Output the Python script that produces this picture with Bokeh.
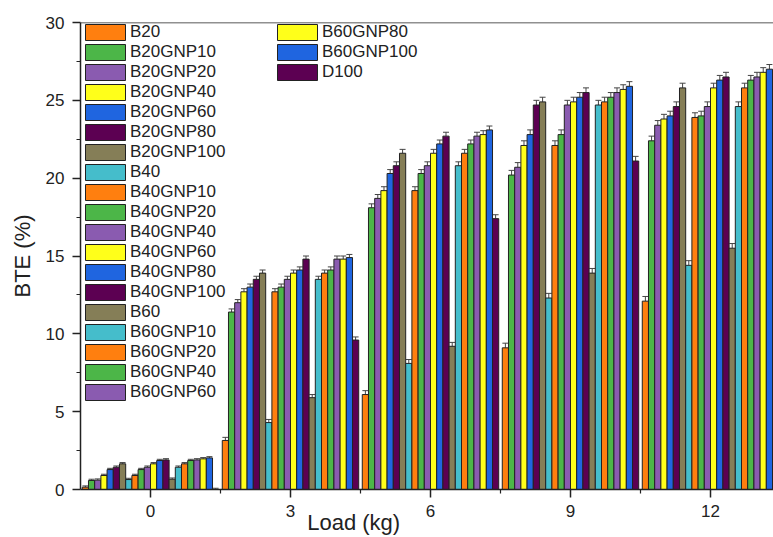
from bokeh.plotting import figure
from bokeh.models import (ColumnDataSource, Range1d, FixedTicker, Legend, LegendItem,
                          Whisker, TeeHead, Span)
from bokeh.embed import file_html
from bokeh.resources import INLINE

loads = [0, 3, 6, 9, 12]
names = ["B20", "B20GNP10", "B20GNP20", "B20GNP40", "B20GNP60", "B20GNP80", "B20GNP100",
         "B40", "B40GNP10", "B40GNP20", "B40GNP40", "B40GNP60", "B40GNP80", "B40GNP100",
         "B60", "B60GNP10", "B60GNP20", "B60GNP40", "B60GNP60", "B60GNP80", "B60GNP100",
         "D100"]

B20 = [0.15, 3.15, 6.1, 9.1, 12.1]
B20GNP10 = [0.58, 11.4, 18.1, 20.2, 22.4]
B20GNP20 = [0.6, 12.0, 18.7, 20.7, 23.4]
B20GNP40 = [0.9, 12.7, 19.2, 22.1, 23.8]
B20GNP60 = [1.28, 13.0, 20.3, 22.8, 24.0]
B20GNP80 = [1.43, 13.5, 20.8, 24.7, 24.6]
B20GNP100 = [1.65, 13.9, 21.6, 24.9, 25.8]
B40 = [0.64, 4.3, 8.1, 12.3, 14.4]
B40GNP10 = [0.9, 12.7, 19.2, 22.1, 23.9]
B40GNP20 = [1.28, 13.0, 20.3, 22.8, 24.0]
B40GNP40 = [1.43, 13.5, 20.8, 24.7, 24.6]
B40GNP60 = [1.65, 13.9, 21.6, 24.9, 25.8]
B40GNP80 = [1.86, 14.1, 22.2, 25.2, 26.3]
B40GNP100 = [1.9, 14.8, 22.7, 25.5, 26.5]
B60 = [0.66, 5.9, 9.2, 13.9, 15.5]
B60GNP10 = [1.43, 13.5, 20.8, 24.7, 24.6]
B60GNP20 = [1.65, 13.9, 21.6, 24.9, 25.8]
B60GNP40 = [1.86, 14.1, 22.2, 25.2, 26.3]
B60GNP60 = [1.9, 14.8, 22.7, 25.5, 26.5]
B60GNP80 = [1.97, 14.8, 22.8, 25.7, 26.8]
B60GNP100 = [2.03, 14.9, 23.1, 25.9, 27.0]
D100 = [0.0, 9.6, 17.4, 21.1, 22.9]

errors = [0.08, 0.2, 0.25, 0.3, 0.3]

series = [B20, B20GNP10, B20GNP20, B20GNP40, B20GNP60, B20GNP80, B20GNP100,
          B40, B40GNP10, B40GNP20, B40GNP40, B40GNP60, B40GNP80, B40GNP100,
          B60, B60GNP10, B60GNP20, B60GNP40, B60GNP60, B60GNP80, B60GNP100, D100]

palette = ["#FF7F0F", "#4CB648", "#8A5BB0", "#FFFF1A", "#1F65E0", "#5C0052", "#857E57", "#45BDCB"]

W, H = 773, 537
p = figure(width=W, height=H, output_backend="svg", toolbar_location=None,
           x_range=Range1d(-1.5, 13.35), y_range=Range1d(0, 30),
           min_border_left=80, min_border_right=0, min_border_top=22, min_border_bottom=48)
p.outline_line_color = None
p.xgrid.visible = False
p.ygrid.visible = False
p.background_fill_color = "white"
p.border_fill_color = "white"

bw = 0.1329
n = len(series)
items = []
for i, (nm, vals) in enumerate(zip(names, series)):
    xs = [l + (i - (n - 1) / 2) * bw for l in loads]
    src = ColumnDataSource(dict(x=xs, top=vals,
                                upper=[v + e for v, e in zip(vals, errors)]))
    r = p.vbar(x="x", top="top", width=bw, bottom=0, source=src,
               fill_color=palette[i % len(palette)], line_color="#222222", line_width=1)
    w = Whisker(base="x", upper="upper", lower="top", source=src, dimension="height",
                line_color="#444444", line_width=1,
                upper_head=TeeHead(size=6, line_color="#444444", line_width=1),
                lower_head=None)
    p.add_layout(w)
    items.append(LegendItem(label=nm, renderers=[r]))

legend = Legend(items=items, location="top_left", orientation="vertical", nrows=19,
                margin=0, padding=0, spacing=0, glyph_width=50, glyph_height=20,
                label_width=142, label_standoff=0, label_height=17,
                label_text_font="Liberation Sans", label_text_font_size="17px",
                label_text_color="#222222",
                background_fill_alpha=0, border_line_color=None)
p.add_layout(legend, "center")

p.add_layout(Span(location=30, dimension="width", line_color="#222222", line_width=1.5))

for ax in (p.xaxis[0], p.yaxis[0]):
    ax.axis_line_color = "#222222"
    ax.axis_line_width = 1.5
    ax.major_tick_line_color = "#222222"
    ax.minor_tick_line_color = "#222222"
    ax.major_tick_line_width = 1.5
    ax.minor_tick_line_width = 1.2
    ax.major_tick_in = 0
    ax.major_tick_out = 8
    ax.minor_tick_in = 0
    ax.minor_tick_out = 4
    ax.major_label_text_font = "Liberation Sans"
    ax.major_label_text_font_size = "17px"
    ax.major_label_text_color = "#222222"
    ax.axis_label_text_font = "Liberation Sans"
    ax.axis_label_text_font_size = "22px"
    ax.axis_label_text_font_style = "normal"
    ax.axis_label_text_color = "#222222"

p.xaxis.ticker = FixedTicker(ticks=loads, minor_ticks=[1.5, 4.5, 7.5, 10.5])
p.yaxis.ticker = FixedTicker(ticks=[0, 5, 10, 15, 20, 25, 30],
                             minor_ticks=[2.5, 7.5, 12.5, 17.5, 22.5, 27.5])
p.xaxis.major_label_standoff = 7
p.yaxis.major_label_standoff = 8

p.yaxis.axis_label = "BTE (%)"
p.yaxis.axis_label_standoff = 8

# x-axis title sits left of the frame centre in the reference (the chart is cropped on the right)
p.xaxis.axis_label = "Load (kg)" + "\u00a0" * 24
p.xaxis.axis_label_standoff = -10

open("out.html", "w").write(file_html(p, INLINE))
